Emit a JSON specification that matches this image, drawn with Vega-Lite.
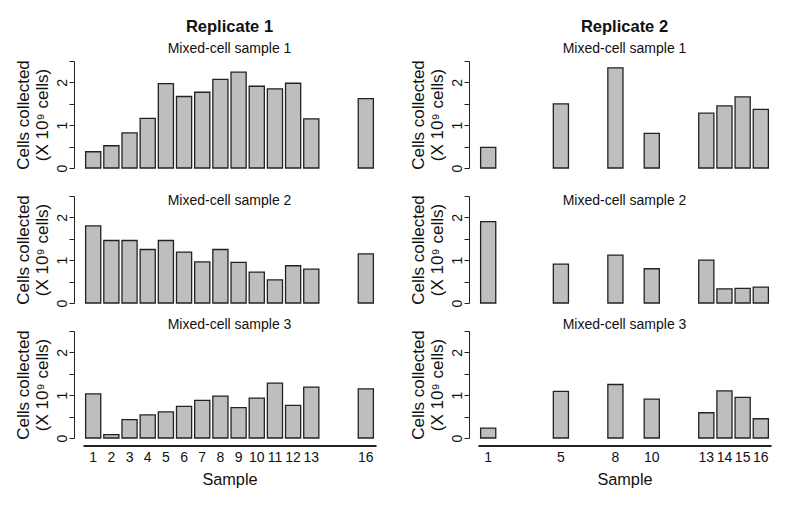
{
  "$schema": "https://vega.github.io/schema/vega-lite/v6.json",
  "padding": {"left": 14, "top": 19, "right": 5, "bottom": 5},
  "config": {
    "font": "Liberation Sans",
    "view": {"stroke": null},
    "title": {"font": "Liberation Sans", "color": "#111", "fontWeight": "normal", "fontSize": 14, "anchor": "middle", "subtitleFont": "Liberation Sans", "subtitleFontSize": 14, "subtitleColor": "#111"},
    "axis": {
      "grid": false,
      "domainColor": "#222",
      "tickColor": "#222",
      "labelColor": "#111",
      "titleColor": "#111",
      "labelFont": "Liberation Sans",
      "titleFont": "Liberation Sans",
      "labelFontSize": 14,
      "titleFontSize": 16.3,
      "titleFontWeight": "normal"
    },
    "axisY": {"titleFontSize": 17}
  },
  "datasets": {
    "cells": [
      {"rep": 1, "mix": 1, "sample": 1, "cells": 0.38},
      {"rep": 1, "mix": 1, "sample": 2, "cells": 0.52},
      {"rep": 1, "mix": 1, "sample": 3, "cells": 0.82},
      {"rep": 1, "mix": 1, "sample": 4, "cells": 1.16},
      {"rep": 1, "mix": 1, "sample": 5, "cells": 1.97},
      {"rep": 1, "mix": 1, "sample": 6, "cells": 1.67},
      {"rep": 1, "mix": 1, "sample": 7, "cells": 1.77},
      {"rep": 1, "mix": 1, "sample": 8, "cells": 2.07},
      {"rep": 1, "mix": 1, "sample": 9, "cells": 2.24},
      {"rep": 1, "mix": 1, "sample": 10, "cells": 1.91},
      {"rep": 1, "mix": 1, "sample": 11, "cells": 1.85},
      {"rep": 1, "mix": 1, "sample": 12, "cells": 1.98},
      {"rep": 1, "mix": 1, "sample": 13, "cells": 1.15},
      {"rep": 1, "mix": 1, "sample": 16, "cells": 1.62},
      {"rep": 2, "mix": 1, "sample": 1, "cells": 0.48},
      {"rep": 2, "mix": 1, "sample": 5, "cells": 1.50},
      {"rep": 2, "mix": 1, "sample": 8, "cells": 2.34},
      {"rep": 2, "mix": 1, "sample": 10, "cells": 0.81},
      {"rep": 2, "mix": 1, "sample": 13, "cells": 1.28},
      {"rep": 2, "mix": 1, "sample": 14, "cells": 1.45},
      {"rep": 2, "mix": 1, "sample": 15, "cells": 1.66},
      {"rep": 2, "mix": 1, "sample": 16, "cells": 1.37},
      {"rep": 1, "mix": 2, "sample": 1, "cells": 1.80},
      {"rep": 1, "mix": 2, "sample": 2, "cells": 1.46},
      {"rep": 1, "mix": 2, "sample": 3, "cells": 1.46},
      {"rep": 1, "mix": 2, "sample": 4, "cells": 1.25},
      {"rep": 1, "mix": 2, "sample": 5, "cells": 1.46},
      {"rep": 1, "mix": 2, "sample": 6, "cells": 1.19},
      {"rep": 1, "mix": 2, "sample": 7, "cells": 0.96},
      {"rep": 1, "mix": 2, "sample": 8, "cells": 1.25},
      {"rep": 1, "mix": 2, "sample": 9, "cells": 0.95},
      {"rep": 1, "mix": 2, "sample": 10, "cells": 0.72},
      {"rep": 1, "mix": 2, "sample": 11, "cells": 0.54},
      {"rep": 1, "mix": 2, "sample": 12, "cells": 0.87},
      {"rep": 1, "mix": 2, "sample": 13, "cells": 0.79},
      {"rep": 1, "mix": 2, "sample": 16, "cells": 1.15},
      {"rep": 2, "mix": 2, "sample": 1, "cells": 1.90},
      {"rep": 2, "mix": 2, "sample": 5, "cells": 0.91},
      {"rep": 2, "mix": 2, "sample": 8, "cells": 1.12},
      {"rep": 2, "mix": 2, "sample": 10, "cells": 0.80},
      {"rep": 2, "mix": 2, "sample": 13, "cells": 1.00},
      {"rep": 2, "mix": 2, "sample": 14, "cells": 0.33},
      {"rep": 2, "mix": 2, "sample": 15, "cells": 0.34},
      {"rep": 2, "mix": 2, "sample": 16, "cells": 0.37},
      {"rep": 1, "mix": 3, "sample": 1, "cells": 1.03},
      {"rep": 1, "mix": 3, "sample": 2, "cells": 0.08},
      {"rep": 1, "mix": 3, "sample": 3, "cells": 0.43},
      {"rep": 1, "mix": 3, "sample": 4, "cells": 0.54},
      {"rep": 1, "mix": 3, "sample": 5, "cells": 0.61},
      {"rep": 1, "mix": 3, "sample": 6, "cells": 0.74},
      {"rep": 1, "mix": 3, "sample": 7, "cells": 0.88},
      {"rep": 1, "mix": 3, "sample": 8, "cells": 0.98},
      {"rep": 1, "mix": 3, "sample": 9, "cells": 0.71},
      {"rep": 1, "mix": 3, "sample": 10, "cells": 0.93},
      {"rep": 1, "mix": 3, "sample": 11, "cells": 1.28},
      {"rep": 1, "mix": 3, "sample": 12, "cells": 0.76},
      {"rep": 1, "mix": 3, "sample": 13, "cells": 1.19},
      {"rep": 1, "mix": 3, "sample": 16, "cells": 1.15},
      {"rep": 2, "mix": 3, "sample": 1, "cells": 0.23},
      {"rep": 2, "mix": 3, "sample": 5, "cells": 1.09},
      {"rep": 2, "mix": 3, "sample": 8, "cells": 1.25},
      {"rep": 2, "mix": 3, "sample": 10, "cells": 0.91},
      {"rep": 2, "mix": 3, "sample": 13, "cells": 0.59},
      {"rep": 2, "mix": 3, "sample": 14, "cells": 1.10},
      {"rep": 2, "mix": 3, "sample": 15, "cells": 0.95},
      {"rep": 2, "mix": 3, "sample": 16, "cells": 0.45}
    ]
  },
  "bounds": "flush",
  "columns": 2,
  "spacing": {"row": 28, "column": 102},
  "concat": [
    {
      "data": {"name": "cells"},
      "transform": [{"filter": "datum.rep == 1 && datum.mix == 1"}],
      "title": {"text": "Replicate 1", "fontWeight": "bold", "fontSize": 16.5, "subtitle": "Mixed-cell sample 1", "subtitlePadding": 6, "offset": 4},
      "width": 293, "height": 107,
      "mark": {"type": "bar", "fill": "#bebebe", "stroke": "#222", "strokeWidth": 1.3},
      "encoding": {
        "x": {"field": "sample", "type": "ordinal", "scale": {"domain": [1,2,3,4,5,6,7,8,9,10,11,12,13,14,15,16], "paddingInner": 0.167, "paddingOuter": 0.144}, "axis": null},
        "y": {"field": "cells", "type": "quantitative", "scale": {"domain": [0, 2.5], "nice": false},
          "axis": {"title": ["Cells collected", "(X 10⁹ cells)"], "values": [0, 0.5, 1, 1.5, 2, 2.5], "labelExpr": "datum.value % 1 == 0 ? format(datum.value, 'd') : ''", "labelAngle": -90, "labelAlign": "center", "labelBaseline": "bottom", "tickSize": 5, "offset": 9, "labelPadding": 0, "titlePadding": 4, "titleLineHeight": 19}}
      }
    },
    {
      "data": {"name": "cells"},
      "transform": [{"filter": "datum.rep == 2 && datum.mix == 1"}],
      "title": {"text": "Replicate 2", "fontWeight": "bold", "fontSize": 16.5, "subtitle": "Mixed-cell sample 1", "subtitlePadding": 6, "offset": 4},
      "width": 293, "height": 107,
      "mark": {"type": "bar", "fill": "#bebebe", "stroke": "#222", "strokeWidth": 1.3},
      "encoding": {
        "x": {"field": "sample", "type": "ordinal", "scale": {"domain": [1,2,3,4,5,6,7,8,9,10,11,12,13,14,15,16], "paddingInner": 0.167, "paddingOuter": 0.144}, "axis": null},
        "y": {"field": "cells", "type": "quantitative", "scale": {"domain": [0, 2.5], "nice": false},
          "axis": {"title": ["Cells collected", "(X 10⁹ cells)"], "values": [0, 0.5, 1, 1.5, 2, 2.5], "labelExpr": "datum.value % 1 == 0 ? format(datum.value, 'd') : ''", "labelAngle": -90, "labelAlign": "center", "labelBaseline": "bottom", "tickSize": 5, "offset": 9, "labelPadding": 0, "titlePadding": 4, "titleLineHeight": 19}}
      }
    },
    {
      "data": {"name": "cells"},
      "transform": [{"filter": "datum.rep == 1 && datum.mix == 2"}],
      "title": {"text": "Mixed-cell sample 2", "offset": -13},
      "width": 293, "height": 107,
      "mark": {"type": "bar", "fill": "#bebebe", "stroke": "#222", "strokeWidth": 1.3},
      "encoding": {
        "x": {"field": "sample", "type": "ordinal", "scale": {"domain": [1,2,3,4,5,6,7,8,9,10,11,12,13,14,15,16], "paddingInner": 0.167, "paddingOuter": 0.144}, "axis": null},
        "y": {"field": "cells", "type": "quantitative", "scale": {"domain": [0, 2.5], "nice": false},
          "axis": {"title": ["Cells collected", "(X 10⁹ cells)"], "values": [0, 0.5, 1, 1.5, 2, 2.5], "labelExpr": "datum.value % 1 == 0 ? format(datum.value, 'd') : ''", "labelAngle": -90, "labelAlign": "center", "labelBaseline": "bottom", "tickSize": 5, "offset": 9, "labelPadding": 0, "titlePadding": 4, "titleLineHeight": 19}}
      }
    },
    {
      "data": {"name": "cells"},
      "transform": [{"filter": "datum.rep == 2 && datum.mix == 2"}],
      "title": {"text": "Mixed-cell sample 2", "offset": -13},
      "width": 293, "height": 107,
      "mark": {"type": "bar", "fill": "#bebebe", "stroke": "#222", "strokeWidth": 1.3},
      "encoding": {
        "x": {"field": "sample", "type": "ordinal", "scale": {"domain": [1,2,3,4,5,6,7,8,9,10,11,12,13,14,15,16], "paddingInner": 0.167, "paddingOuter": 0.144}, "axis": null},
        "y": {"field": "cells", "type": "quantitative", "scale": {"domain": [0, 2.5], "nice": false},
          "axis": {"title": ["Cells collected", "(X 10⁹ cells)"], "values": [0, 0.5, 1, 1.5, 2, 2.5], "labelExpr": "datum.value % 1 == 0 ? format(datum.value, 'd') : ''", "labelAngle": -90, "labelAlign": "center", "labelBaseline": "bottom", "tickSize": 5, "offset": 9, "labelPadding": 0, "titlePadding": 4, "titleLineHeight": 19}}
      }
    },
    {
      "data": {"name": "cells"},
      "transform": [{"filter": "datum.rep == 1 && datum.mix == 3"}],
      "title": {"text": "Mixed-cell sample 3", "offset": -2},
      "width": 293, "height": 107,
      "mark": {"type": "bar", "fill": "#bebebe", "stroke": "#222", "strokeWidth": 1.3},
      "encoding": {
        "x": {"field": "sample", "type": "ordinal", "scale": {"domain": [1,2,3,4,5,6,7,8,9,10,11,12,13,14,15,16], "paddingInner": 0.167, "paddingOuter": 0.144},
          "axis": {"title": "Sample", "values": [1,2,3,4,5,6,7,8,9,10,11,12,13,16], "labelAngle": 0, "ticks": false, "tickSize": 0, "domainWidth": 2, "offset": 7.5, "labelPadding": 5, "titlePadding": 7}},
        "y": {"field": "cells", "type": "quantitative", "scale": {"domain": [0, 2.5], "nice": false},
          "axis": {"title": ["Cells collected", "(X 10⁹ cells)"], "values": [0, 0.5, 1, 1.5, 2, 2.5], "labelExpr": "datum.value % 1 == 0 ? format(datum.value, 'd') : ''", "labelAngle": -90, "labelAlign": "center", "labelBaseline": "bottom", "tickSize": 5, "offset": 9, "labelPadding": 0, "titlePadding": 4, "titleLineHeight": 19}}
      }
    },
    {
      "data": {"name": "cells"},
      "transform": [{"filter": "datum.rep == 2 && datum.mix == 3"}],
      "title": {"text": "Mixed-cell sample 3", "offset": -2},
      "width": 293, "height": 107,
      "mark": {"type": "bar", "fill": "#bebebe", "stroke": "#222", "strokeWidth": 1.3},
      "encoding": {
        "x": {"field": "sample", "type": "ordinal", "scale": {"domain": [1,2,3,4,5,6,7,8,9,10,11,12,13,14,15,16], "paddingInner": 0.167, "paddingOuter": 0.144},
          "axis": {"title": "Sample", "values": [1,5,8,10,13,14,15,16], "labelAngle": 0, "ticks": false, "tickSize": 0, "domainWidth": 2, "offset": 7.5, "labelPadding": 5, "titlePadding": 7}},
        "y": {"field": "cells", "type": "quantitative", "scale": {"domain": [0, 2.5], "nice": false},
          "axis": {"title": ["Cells collected", "(X 10⁹ cells)"], "values": [0, 0.5, 1, 1.5, 2, 2.5], "labelExpr": "datum.value % 1 == 0 ? format(datum.value, 'd') : ''", "labelAngle": -90, "labelAlign": "center", "labelBaseline": "bottom", "tickSize": 5, "offset": 9, "labelPadding": 0, "titlePadding": 4, "titleLineHeight": 19}}
      }
    }
  ]
}
